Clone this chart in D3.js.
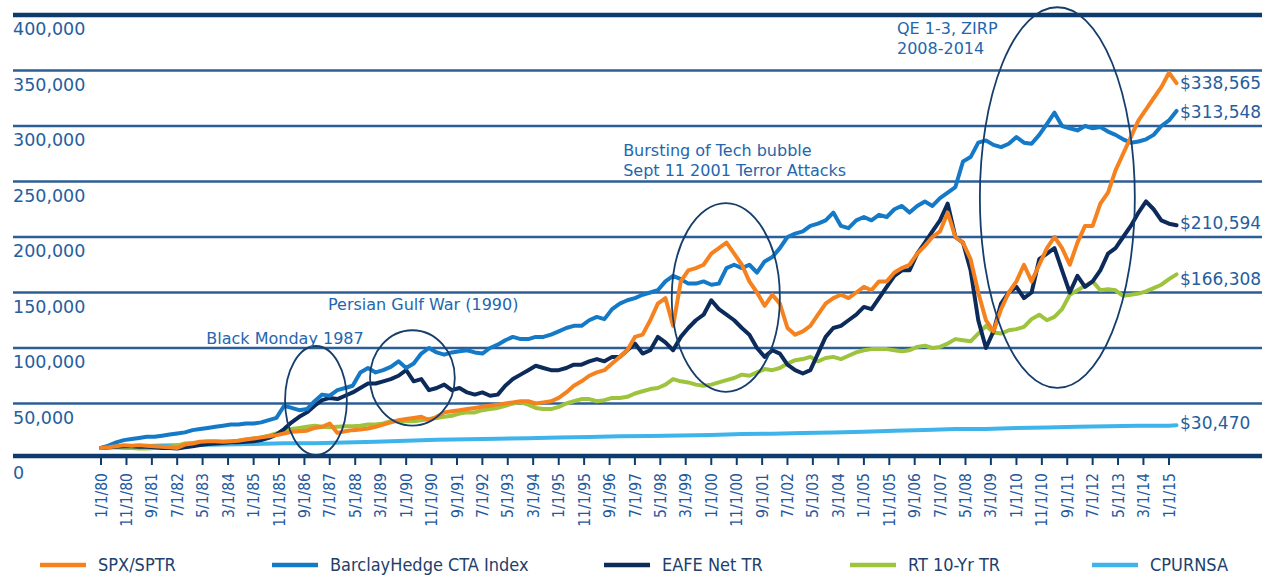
<!DOCTYPE html>
<html><head><meta charset="utf-8">
<script src="https://cdn.jsdelivr.net/npm/d3@7"></script>
<style>body{margin:0;background:#fff}svg{display:block}</style>
</head><body>
<svg id="chart" width="1264" height="577"></svg>
<script>
// ---- DATA (values in thousands of dollars, growth of $10,000) ----
const xTickLabels = ["1/1/80","11/1/80","9/1/81","7/1/82","5/1/83","3/1/84","1/1/85","11/1/85","9/1/86","7/1/87","5/1/88","3/1/89","1/1/90","11/1/90","9/1/91","7/1/92","5/1/93","3/1/94","1/1/95","11/1/95","9/1/96","7/1/97","5/1/98","3/1/99","1/1/00","11/1/00","9/1/01","7/1/02","5/1/03","3/1/04","1/1/05","11/1/05","9/1/06","7/1/07","5/1/08","3/1/09","1/1/10","11/1/10","9/1/11","7/1/12","5/1/13","3/1/14","1/1/15"];
const yTicks = [0,50,100,150,200,250,300,350,400];

// quarterly observations, Jan 1980 .. Apr 2015
const spx = [
 10,10.5,11.5,12.5, 12,12.5,12,11.5, 11,10.5,10,13, 14,15.5,16,16, 15.5,16,16.5,17.5,
 18.5,19.5,20.5,21.5, 23,24.5,25,25.5, 28,29,32,23.5, 25,26,26.5,27.5, 29,31,33,35,
 36,37,38,35, 38,42,43,44, 45,46,47,48, 49,50,51,52, 52,50,51,52,
 55,60,66,70, 75,78,80,86, 92,98,110,112, 125,140,145,120, 160,170,172,175,
 185,190,195,185, 175,160,150,138, 148,140,118,112, 115,120,130,140, 145,148,145,150,
 155,152,160,160, 168,172,175,185, 192,200,205,222, 200,195,180,150, 125,115,135,150,
 160,175,160,175, 190,200,190,175, 195,210,210,230, 240,260,275,290, 305,315,325,335,
 348,338.565];
const barclay = [
 10,12,15,17, 18,19,20,20, 21,22,23,24, 26,27,28,29, 30,31,31,32,
 32,33,35,37, 48,46,44,45, 52,58,57,62, 64,66,78,82, 78,80,83,88,
 82,86,95,100, 96,94,96,97, 98,96,95,100, 103,107,110,108, 108,110,110,112,
 115,118,120,120, 125,128,126,135, 140,143,145,148, 150,152,160,165, 162,158,158,160,
 157,158,172,175, 172,175,168,178, 182,190,200,203, 205,210,212,215, 222,210,208,215,
 218,215,220,218, 225,228,222,228, 232,228,235,240, 245,268,272,285, 287,283,281,284,
 290,285,284,292, 302,312,300,298, 296,300,298,299, 295,292,288,285, 286,288,292,300,
 305,313.548];
const eafe = [
 10,10.5,11,11.5, 11.5,11,11,10.5, 10,10,9.5,10.5, 11.5,12.5,13.5,14, 14.5,15,15,15.5,
 16,17,19,22, 27,33,38,42, 48,53,55,54, 57,60,64,68, 68,70,72,75,
 80,70,72,62, 64,67,62,64, 60,58,60,57, 58,66,72,76, 80,84,82,80,
 80,82,85,85, 88,90,88,92, 92,98,104,95, 98,110,105,98, 110,118,125,130,
 143,135,130,125, 118,112,100,92, 98,95,85,80, 77,80,95,110, 118,120,125,130,
 137,135,145,155, 165,170,170,185, 195,205,215,230, 200,195,170,125, 100,115,140,150,
 155,145,150,180, 185,190,170,150, 165,155,160,170, 185,190,200,210, 222,232,225,215,
 212,210.594];
const rt10 = [
 10,11,10.5,10, 10,9.5,9.5,10, 10.5,11,12,14, 14.5,15,15,15.5, 15.5,15.5,16.5,17.5,
 18.5,19.5,21,23, 25,27,28,29, 30,29,28.5,29, 29.5,29.5,30,31, 31,32,34,34,
 34,34,35,36, 37,38,39,41, 42,42,44,45, 46,48,50,51, 49,46,45,45,
 47,50,52,54, 54,52,53,55, 55,56,59,61, 63,64,67,72, 70,69,67,66,
 67,69,71,73, 76,75,78,81, 80,82,86,89, 90,92,88,91, 92,90,93,96,
 98,99,99,99, 98,97,98,101, 102,100,101,104, 108,107,106,113, 120,114,113,116,
 117,119,126,130, 125,128,135,148, 152,156,160,152, 153,152,147,148, 149,151,154,157,
 162,166.308];
// CPI, each January 1980..2015, then April 2015
const cpurnsa = [10,11.18,12.12,12.57,13.10,13.56,14.09,14.29,14.87,15.57,16.38,17.30,17.75,18.33,18.79,
 19.32,19.85,20.45,20.77,21.12,21.70,22.51,22.76,23.35,23.80,24.51,25.49,26.02,27.13,27.13,27.85,
 28.30,29.14,29.60,30.06,30.04,30.47];

const seriesNames = ["SPX/SPTR","BarclayHedge CTA Index","EAFE Net TR","RT 10-Yr TR","CPURNSA"];
const seriesColors = ["#f5821f","#1479c6","#0c2b5b","#9ec33c","#3fb4ea"];

const annotations = [
 {lines:["Black Monday 1987"], date:"1983-06-15", value:109},
 {lines:["Persian Gulf War (1990)"], date:"1987-06-10", value:140},
 {lines:["Bursting of Tech bubble","Sept 11 2001 Terror Attacks"], date:"1997-02-10", value:278},
 {lines:["QE 1-3, ZIRP","2008-2014"], date:"2006-02-01", value:388}
];
const ellipses = [
 {x0:"1986-01-12", x1:"1988-01-22", v0:3.6, v1:101.8},
 {x0:"1988-10-25", x1:"1991-08-06", v0:30, v1:116},
 {x0:"1998-09-15", x1:"2002-04-01", v0:60.4, v1:230.6},
 {x0:"2008-10-20", x1:"2013-11-18", v0:64, v1:407}
];

// ---- CHART ----
const svg = d3.select("#chart");
const parseTick = d3.timeParse("%-m/%-d/%y");
const parseISO = d3.timeParse("%Y-%m-%d");
const x = d3.scaleTime().domain([new Date(1980,0,1), new Date(2015,0,1)]).range([101,1169]);
const y = d3.scaleLinear().domain([0,400]).range([459,15]);
const gridL = 13, gridR = 1262;
const labelBlue = "#255e9e";

const qDates = d3.timeMonth.range(new Date(1980,0,1), new Date(2015,3,2), 3);
const cpiDates = d3.range(1980,2016).map(yr => new Date(yr,0,1)).concat([new Date(2015,3,1)]);
const seriesValues = [spx, barclay, eafe, rt10, cpurnsa];
const seriesDates = [qDates, qDates, qDates, qDates, cpiDates];

// gridlines
svg.append("g").selectAll("line").data(yTicks.filter(v => v > 0)).join("line")
  .attr("x1", gridL).attr("x2", gridR)
  .attr("y1", d => y(d)).attr("y2", d => y(d))
  .attr("stroke", d => d === 400 ? "#0e3b6e" : "#2c5e95")
  .attr("stroke-width", d => d === 400 ? 4.5 : 2.5);
// bottom axis line
svg.append("line").attr("x1", gridL).attr("x2", gridR)
  .attr("y1", y(0) - 3).attr("y2", y(0) - 3)
  .attr("stroke", "#0e3b6e").attr("stroke-width", 4.5);

// y labels (below each line)
const fmt = d3.format(",");
svg.append("g").selectAll("text").data(yTicks).join("text")
  .attr("x", gridL).attr("y", d => y(d) + 20)
  .attr("font-family", "DejaVu Sans").attr("font-size", 17.5)
  .attr("fill", labelBlue)
  .text(d => fmt(d * 1000));

// x ticks
const tickDates = xTickLabels.map(parseTick);
const xt = svg.append("g");
xt.selectAll("line").data(tickDates).join("line")
  .attr("x1", d => x(d)).attr("x2", d => x(d))
  .attr("y1", y(0) - 2).attr("y2", y(0) + 6)
  .attr("stroke", "#0e3b6e").attr("stroke-width", 2);
xt.selectAll("text").data(xTickLabels).join("text")
  .attr("transform", d => `translate(${x(parseTick(d))},${y(0) + 14}) rotate(-90)`)
  .attr("text-anchor", "end").attr("dy", "0.36em")
  .attr("font-family", "DejaVu Sans Condensed, DejaVu Sans").attr("font-size", 15.5)
  .attr("fill", "#1f5aa0")
  .text(d => d);

// series
const line = d3.line().x(d => x(d[0])).y(d => y(d[1]));
const drawOrder = [4, 3, 2, 1, 0];
drawOrder.forEach(i => {
  const pts = seriesValues[i].map((v, j) => [seriesDates[i][j], v]);
  svg.append("path").attr("d", line(pts))
    .attr("fill", "none").attr("stroke", seriesColors[i])
    .attr("stroke-width", 4).attr("stroke-linejoin", "round").attr("stroke-linecap", "round");
});

// end value labels
const endOffsets = [0, 1, -2, 5, -2];
seriesValues.forEach((vals, i) => {
  const last = vals[vals.length - 1];
  svg.append("text").attr("x", 1180).attr("y", y(last) + endOffsets[i] + 6)
    .attr("font-family", "DejaVu Sans").attr("font-size", 17)
    .attr("fill", labelBlue)
    .text("$" + fmt(Math.round(last * 1000)));
});

// ellipses
svg.append("g").selectAll("ellipse").data(ellipses).join("ellipse")
  .attr("cx", d => (x(parseISO(d.x0)) + x(parseISO(d.x1))) / 2)
  .attr("cy", d => (y(d.v0) + y(d.v1)) / 2)
  .attr("rx", d => (x(parseISO(d.x1)) - x(parseISO(d.x0))) / 2)
  .attr("ry", d => (y(d.v0) - y(d.v1)) / 2)
  .attr("fill", "none").attr("stroke", "#163e6c").attr("stroke-width", 1.8);

// annotation text
annotations.forEach(a => {
  const t = svg.append("text").attr("x", x(parseISO(a.date))).attr("y", y(a.value) + 6)
    .attr("font-family", "DejaVu Sans").attr("font-size", 16).attr("fill", "#2366ad");
  a.lines.forEach((l, k) => t.append("tspan").attr("x", x(parseISO(a.date))).attr("dy", k ? 20 : 0).text(l));
});

// legend
const legendX = [40, 272, 604, 850, 1092];
const lg = svg.append("g");
seriesNames.forEach((n, i) => {
  lg.append("line").attr("x1", legendX[i]).attr("x2", legendX[i] + 46)
    .attr("y1", 565).attr("y2", 565).attr("stroke", seriesColors[i]).attr("stroke-width", 4.5);
  lg.append("text").attr("x", legendX[i] + 58).attr("y", 571)
    .attr("font-family", "DejaVu Sans Condensed, DejaVu Sans").attr("font-size", 18)
    .attr("fill", "#21406b").text(n);
});
</script>
</body></html>
